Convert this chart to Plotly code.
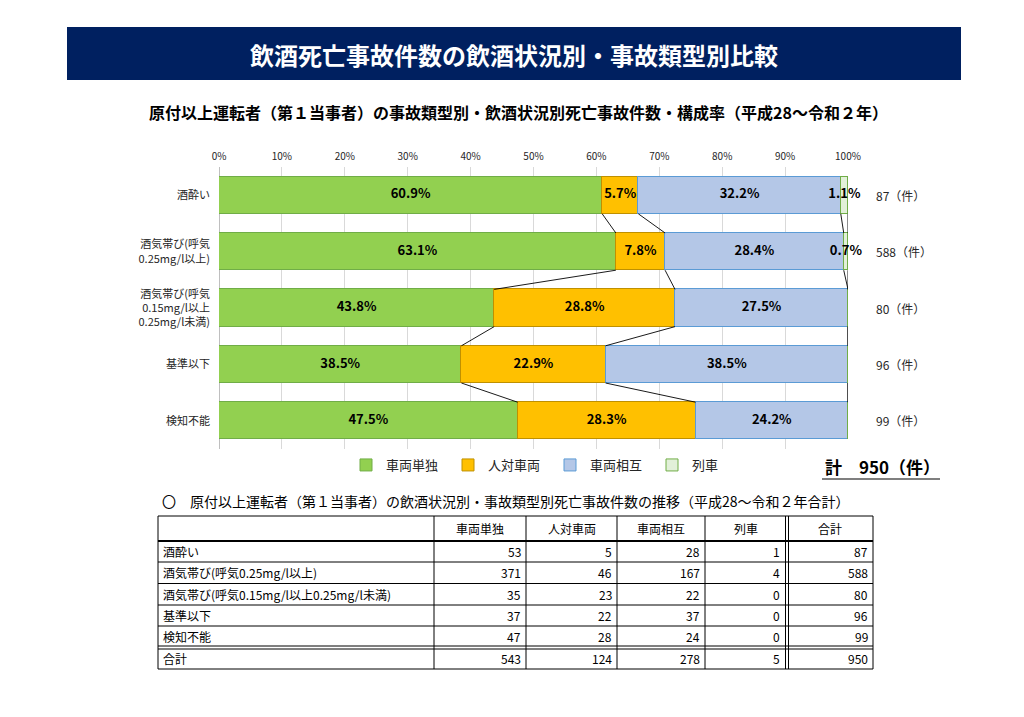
import plotly.graph_objects as go

W, H = 1024, 717
OFF = 8  # page body margin of the browser

# ---------------- data ----------------
title = "飲酒死亡事故件数の飲酒状況別・事故類型別比較"
subtitle = "原付以上運転者（第１当事者）の事故類型別・飲酒状況別死亡事故件数・構成率（平成28～令和２年）"
table_caption = "〇　原付以上運転者（第１当事者）の飲酒状況別・事故類型別死亡事故件数の推移（平成28～令和２年合計）"

chart_labels = ["酒酔い",
                "酒気帯び(呼気<br>0.25mg/l以上)",
                "酒気帯び(呼気<br>0.15mg/l以上<br>0.25mg/l未満)",
                "基準以下",
                "検知不能"]
table_labels = ["酒酔い",
                "酒気帯び(呼気0.25mg/l以上)",
                "酒気帯び(呼気0.15mg/l以上0.25mg/l未満)",
                "基準以下",
                "検知不能"]
series_names = ["車両単独", "人対車両", "車両相互", "列車"]
single = [53, 371, 35, 37, 47]
pedestrian = [5, 46, 23, 22, 28]
mutual = [28, 167, 22, 37, 24]
train = [1, 4, 0, 0, 0]
row_totals = [87, 588, 80, 96, 99]
col_totals = [543, 124, 278, 5]
grand_total = 950
table_header = ["車両単独", "人対車両", "車両相互", "列車", "合計"]
tick_vals = [0, 10, 20, 30, 40, 50, 60, 70, 80, 90, 100]

# ---------------- styles ----------------
FONT = "Noto Sans CJK JP, Noto Sans, sans-serif"
fills = ["#92D050", "#FFC000", "#B4C7E7", "#E2F0D9"]
borders = ["#70AD47", "#BF9000", "#5B9BD5", "#70AD47"]
BAR_W = 0.66


def px(x):
    return (x - OFF) / W


def py(y):
    return 1 - (y - OFF) / H


series = [single, pedestrian, mutual, train]
n = len(chart_labels)
pos = list(range(n))
pct = [[s[i] / row_totals[i] * 100 for i in range(n)] for s in series]

fig = go.Figure()
for k, name in enumerate(series_names):
    fig.add_trace(go.Bar(
        x=pct[k], y=pos, orientation="h", name=name, width=BAR_W,
        marker=dict(color=fills[k], line=dict(color=borders[k], width=1)),
        hoverinfo="skip",
    ))

# cumulative ends
cum = []
run = [0.0] * n
for k in range(len(series)):
    run = [run[i] + pct[k][i] for i in range(n)]
    cum.append(list(run))

# series (connector) lines
for k in range(len(series)):
    xs, ys = [], []
    for i in range(n - 1):
        xs += [cum[k][i], cum[k][i + 1], None]
        ys += [pos[i] + BAR_W / 2, pos[i + 1] - BAR_W / 2, None]
    fig.add_trace(go.Scatter(x=xs, y=ys, mode="lines", showlegend=False,
                             line=dict(color="#000000", width=0.9),
                             hoverinfo="skip"))

# percentage labels
lx, ly, lt = [], [], []
for k in range(len(series)):
    for i in range(n):
        if series[k][i] > 0:
            start = cum[k][i] - pct[k][i]
            lx.append(start + pct[k][i] / 2)
            ly.append(pos[i])
            v = int(pct[k][i] * 10 + 0.5 + 1e-9) / 10
            lt.append(f"{v:.1f}%")
fig.add_trace(go.Scatter(x=lx, y=ly, text=lt, mode="text", showlegend=False,
                         textfont=dict(family=FONT, size=13, color="#000000", weight="bold"),
                         cliponaxis=False, hoverinfo="skip"))

shapes = []
annotations = []


def ann(x, y, text, size, color="#000000", xanchor="center", yanchor="middle",
        xref="paper", yref="paper"):
    annotations.append(dict(xref=xref, yref=yref, x=x, y=y, text=text,
                            xanchor=xanchor, yanchor=yanchor, showarrow=False,
                            font=dict(family=FONT, size=size, color=color)))


# banner
shapes.append(dict(type="rect", xref="paper", yref="paper",
                   x0=px(67), x1=px(961), y0=py(80), y1=py(27),
                   fillcolor="#002060", line=dict(width=0), layer="below"))
ann(px(514), py(54), f"<b>{title}</b>", 24, "#FFFFFF")
ann(px(518), py(112), f"<b>{subtitle}</b>", 16)

# right count labels
for i in range(n):
    ann(px(874), pos[i], f"{row_totals[i]}（件）", 12, "#262626",
        xanchor="left", yref="y")

# total
ann(px(823), py(467), f"<b>計　{grand_total}（件）</b>", 17, xanchor="left")
shapes.append(dict(type="line", xref="paper", yref="paper",
                   x0=px(822), x1=px(940), y0=py(479), y1=py(479),
                   line=dict(color="#000000", width=1.2)))

# table caption
ann(px(160), py(501), table_caption, 14, xanchor="left")

# table grid
col_edges = [158, 434, 526, 617, 705, 787, 873]
row_edges = [516, 541, 562, 583.5, 605, 626, 647.5, 669]
LC = "#000000"


def hline(y, x0, x1, w=1):
    shapes.append(dict(type="line", xref="paper", yref="paper",
                       x0=px(x0), x1=px(x1), y0=py(y), y1=py(y),
                       line=dict(color=LC, width=w)))


def vline(x, y0, y1, w=1):
    shapes.append(dict(type="line", xref="paper", yref="paper",
                       x0=px(x), x1=px(x), y0=py(y0), y1=py(y1),
                       line=dict(color=LC, width=w)))


for xe in col_edges:
    if xe == 787:
        vline(xe - 1.5, row_edges[0], row_edges[-1])
        vline(xe + 1.5, row_edges[0], row_edges[-1])
    else:
        vline(xe, row_edges[0], row_edges[-1])
for j, ye in enumerate(row_edges):
    if ye == 647.5:
        hline(ye - 1.5, col_edges[0], col_edges[-1])
        hline(ye + 1.5, col_edges[0], col_edges[-1])
    else:
        hline(ye, col_edges[0], col_edges[-1], 2 if j == 1 else 1)

# header
for c, h in enumerate(table_header):
    xc = (col_edges[c + 1] + col_edges[c + 2]) / 2
    ann(px(xc), py((row_edges[0] + row_edges[1]) / 2), h, 12)
# body
body_labels = table_labels + ["合計"]
body_rows = [[single[i], pedestrian[i], mutual[i], train[i], row_totals[i]] for i in range(n)]
body_rows.append(col_totals + [grand_total])
for r, lab in enumerate(body_labels):
    yc = (row_edges[r + 1] + row_edges[r + 2]) / 2
    ann(px(161), py(yc), lab, 12, xanchor="left")
    for c, v in enumerate(body_rows[r]):
        xr = col_edges[c + 2] - (5 if c == 3 else 3)
        ann(px(xr), py(yc), str(v), 12, xanchor="right")

fig.update_layout(
    width=W, height=H, autosize=False,
    margin=dict(l=0, r=0, t=0, b=0, pad=0, autoexpand=False),
    paper_bgcolor="#FFFFFF", plot_bgcolor="#FFFFFF",
    font=dict(family=FONT, color="#000000"),
    barmode="stack", bargap=0,
    showlegend=True,
    legend=dict(orientation="h", x=px(346), y=py(465), xanchor="left",
                yanchor="middle", traceorder="normal",
                entrywidth=57, entrywidthmode="pixels",
                font=dict(family=FONT, size=13, color="#262626"),
                bgcolor="rgba(0,0,0,0)"),
    xaxis=dict(domain=[px(219), px(848)], range=[0, 100], side="top",
               tickvals=tick_vals, ticktext=[f"{t}%" for t in tick_vals],
               tickfont=dict(family=FONT, size=10, color="#262626"),
               ticklabelstandoff=4,
               showgrid=True, gridcolor="#D9D9D9", gridwidth=1,
               zeroline=True, zerolinecolor="#BFBFBF", zerolinewidth=1,
               showline=False, ticks="", fixedrange=True, automargin=False),
    yaxis=dict(domain=[py(449), py(167)], range=[n - 0.5, -0.5],
               tickvals=pos, ticktext=chart_labels,
               tickfont=dict(family=FONT, size=11, color="#262626"),
               ticklabelstandoff=8,
               showgrid=False, zeroline=False, showline=False, ticks="",
               fixedrange=True, automargin=False),
    shapes=shapes,
    annotations=annotations,
)

fig.write_html("out.html")
